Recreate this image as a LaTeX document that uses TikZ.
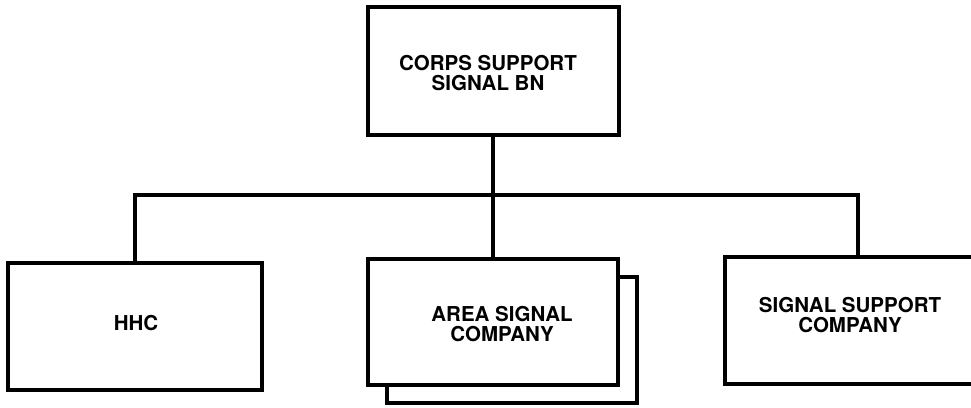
\documentclass[tikz,border=0pt]{standalone}
\usepackage{fontspec}
\setmainfont{TeX Gyre Heros}
\begin{document}
\begin{tikzpicture}[x=1pt,y=-1pt,
  box/.style={draw, line width=4pt, fill=white, inner sep=0pt},
  lbl/.style={font=\fontsize{20.5}{20}\selectfont\bfseries, align=center, inner sep=0pt},
  conn/.style={line width=4pt, line join=miter}]
\clip (0,0) rectangle (971,407);
\fill[white] (0,0) rectangle (971,407);
\coordinate (busR) at (858,195);
\coordinate (busM) at (493,195);
% boxes
\node[box, minimum width=251pt, minimum height=128pt] (top) at (493,71) {};
\node[box, minimum width=254pt, minimum height=127pt] (hhc) at (135,326.5) {};
\node[box, minimum width=250pt, minimum height=126pt] (areash) at (512,340) {};
\node[box, minimum width=250pt, minimum height=126pt] (area) at (493,322) {};
\node[box, minimum width=256pt, minimum height=127pt] (ssc) at (853,320.5) {};
% connectors
\draw[conn] (top.south) -- (area.north);
\draw[conn] (hhc.north) |- (busR) -- (busR |- ssc.north);
% labels
\node[lbl] (toptxt) at (488,73.5) {CORPS SUPPORT\\SIGNAL BN};
\node[lbl] (hhctxt) at (136,323.5) {HHC};
\node[lbl] (areatxt) at (502,324) {AREA SIGNAL\\COMPANY};
\node[lbl] (ssctxt) at (850,315) {SIGNAL SUPPORT\\COMPANY};
\end{tikzpicture}
\end{document}
